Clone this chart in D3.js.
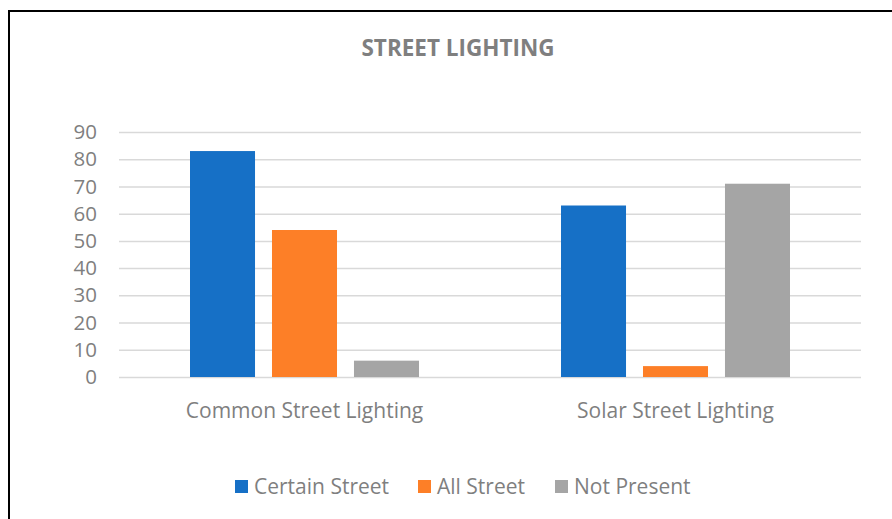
<!DOCTYPE html>
<html>
<head>
<meta charset="utf-8">
<script src="https://cdn.jsdelivr.net/npm/d3@7"></script>
<style>
  body { margin: 0; background: #fff; }
  text { font-family: "Open Sans", sans-serif; }
</style>
</head>
<body>
<svg width="892" height="519"></svg>
<script>
const categories = ['Common Street Lighting', 'Solar Street Lighting'];
const seriesNames = ['Certain Street', 'All Street', 'Not Present'];
const certainStreet = [83, 63];
const allStreet = [54, 4];
const notPresent = [6, 71];
const yTicks = [0, 10, 20, 30, 40, 50, 60, 70, 80, 90];
const colors = ['#1670c6', '#fd7f27', '#a5a5a5'];

const svg = d3.select('svg');
const width = +svg.attr('width');
const height = +svg.attr('height');

// frame
svg.append('rect')
  .attr('x', 9).attr('y', 11)
  .attr('width', width + 20).attr('height', height + 20)
  .attr('fill', 'none').attr('stroke', '#000').attr('stroke-width', 2);

const margin = { top: 132, right: 31, bottom: 142, left: 119 };
const innerWidth = width - margin.left - margin.right;
const innerHeight = height - margin.top - margin.bottom;

const g = svg.append('g')
  .attr('transform', `translate(${margin.left},${margin.top})`);

const rows = categories.map((c, i) => ({
  category: c,
  values: [certainStreet[i], allStreet[i], notPresent[i]]
}));

const x0 = d3.scaleBand().domain(categories).range([0, innerWidth]);
const x1 = d3.scaleBand().domain(seriesNames)
  .range([71, x0.bandwidth() - 71])
  .paddingInner(0.207);
const yScale = d3.scaleLinear().domain([0, 90]).range([innerHeight, 0]);

// gridlines + labels
const yAxis = d3.axisLeft(yScale)
  .tickValues(yTicks)
  .tickSize(-innerWidth)
  .tickPadding(22);
const yAxisG = g.append('g').call(yAxis);
yAxisG.select('.domain').remove();
yAxisG.selectAll('.tick line').attr('stroke', '#d9d9d9').attr('stroke-width', 1.5);
yAxisG.selectAll('.tick text')
  .attr('fill', '#7f7f7f').attr('font-size', 20.5)
  .style('font-family', '"Open Sans", sans-serif');

// bars
const groups = g.selectAll('.group').data(rows).enter().append('g')
  .attr('transform', d => `translate(${x0(d.category)},0)`);
groups.selectAll('rect')
  .data(d => d.values.map((v, i) => ({ key: seriesNames[i], value: v, i })))
  .enter().append('rect')
    .attr('x', d => x1(d.key))
    .attr('y', d => yScale(d.value))
    .attr('width', x1.bandwidth())
    .attr('height', d => innerHeight - yScale(d.value))
    .attr('fill', d => colors[d.i]);

// x axis labels
const xAxis = d3.axisBottom(x0).tickSize(0).tickPadding(26);
const xAxisG = g.append('g').call(xAxis)
  .attr('transform', `translate(0,${innerHeight})`);
xAxisG.select('.domain').remove();
xAxisG.selectAll('.tick text')
  .attr('fill', '#7f7f7f').attr('font-size', 21)
  .style('font-family', '"Open Sans", sans-serif');

// title
svg.append('text')
  .attr('x', 458).attr('y', 56)
  .attr('text-anchor', 'middle')
  .attr('fill', '#7f7f7f')
  .attr('font-size', 22.5)
  .attr('font-weight', 'bold')
  .style('font-family', '"Open Sans", sans-serif')
  .text('STREET LIGHTING');

// legend
const legendX = [235, 418, 555];
const legend = svg.append('g');
seriesNames.forEach((name, i) => {
  legend.append('rect')
    .attr('x', legendX[i]).attr('y', 480)
    .attr('width', 13).attr('height', 13)
    .attr('fill', colors[i]);
  legend.append('text')
    .attr('x', legendX[i] + 19).attr('y', 494)
    .attr('fill', '#7f7f7f').attr('font-size', 21)
    .text(name);
});
</script>
</body>
</html>
